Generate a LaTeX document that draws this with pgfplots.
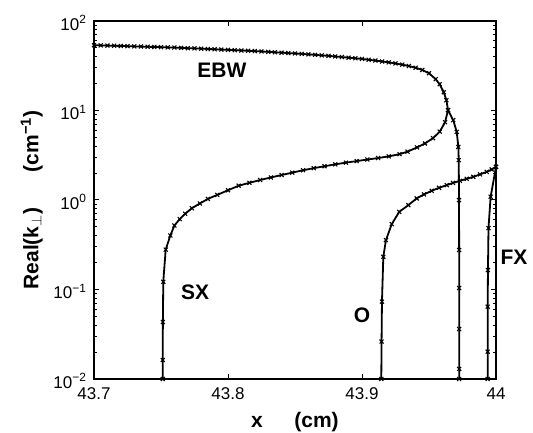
\documentclass[border=0pt]{standalone}
\usepackage{fontspec}
\setmainfont{Liberation Sans}
\usepackage{pgfplots}
\pgfplotsset{compat=1.18}

\begin{document}
\begin{tikzpicture}
\begin{axis}[
    at={(0pt,0pt)}, anchor=south west,
    scale only axis,
    width=402pt, height=358pt,
    ymode=log,
    xmin=43.7, xmax=44,
    ymin=0.01, ymax=100,
    xtick={43.7,43.8,43.9,44},
    xticklabels={43.7,43.8,43.9,44},
    ytick={0.01,0.1,1,10,100},
    yticklabels={10\textsuperscript{−2},10\textsuperscript{−1},10\textsuperscript{0},10\textsuperscript{1},10\textsuperscript{2}},
    minor ytick={0.02,0.03,0.04,0.05,0.06,0.07,0.08,0.09,
                 0.2,0.3,0.4,0.5,0.6,0.7,0.8,0.9,
                 2,3,4,5,6,7,8,9,20,30,40,50,60,70,80,90},
    minor x tick num=0,
    tick align=inside,
    major tick length=5pt,
    minor tick length=3pt,
    every tick/.style={black, line width=1pt},
    axis line style={line width=2pt},
    tick label style={font=\fontsize{17}{19}\selectfont},
    xticklabel style={yshift=-5pt},
    yticklabel style={xshift=-4pt, yshift=-2pt},
    xlabel={x\hspace{1.5em}(cm)},
    ylabel={Real(k\textsubscript{$\perp$})\hspace{1.7em}(cm\textsuperscript{−1})},
    label style={font=\fontsize{21}{24}\selectfont\bfseries},
    xlabel style={at={(axis description cs:0.5,-0.12)}, anchor=center},
    ylabel style={at={(axis description cs:-0.155,0.5)}, anchor=center},
    clip=false,
]

% EBW (upper) joined to SX (lower) through the turning point
\addplot[black, line width=1.8pt, mark=x, mark size=2.8pt, mark options={line width=1.1pt}] coordinates {
    (43.700,53.56) (43.705,53.42) (43.710,53.14) (43.715,52.87) (43.720,52.60)
    (43.725,52.33) (43.730,52.06) (43.735,51.80) (43.740,51.53) (43.745,51.26)
    (43.750,51.00) (43.755,50.74) (43.760,50.48) (43.765,50.09) (43.770,49.70)
    (43.775,49.45) (43.780,49.07) (43.785,48.70) (43.790,48.33) (43.795,47.96)
    (43.800,47.59) (43.805,47.22) (43.810,46.86) (43.815,46.50) (43.820,46.15)
    (43.825,45.67) (43.830,45.20) (43.835,44.74) (43.840,44.28) (43.845,43.82)
    (43.850,43.38) (43.855,42.93) (43.860,42.38) (43.865,41.85) (43.870,41.31)
    (43.875,40.79) (43.880,40.16) (43.885,39.55) (43.890,38.94) (43.895,38.35)
    (43.900,37.66) (43.905,36.90) (43.910,36.14) (43.915,35.32) (43.920,34.51)
    (43.925,33.55) (43.930,32.53) (43.935,31.38) (43.940,30.06) (43.945,28.38)
    (43.950,26.09) (43.955,22.36) (43.958,19.66) (43.961,16.00) (43.963,13.03)
    (43.9642,10.08)
    (43.962,7.40) (43.958,5.80) (43.953,4.91) (43.947,4.28) (43.941,3.87)
    (43.934,3.47) (43.928,3.25) (43.920,3.075) (43.912,2.943) (43.904,2.831)
    (43.896,2.720) (43.888,2.615) (43.880,2.502) (43.872,2.383) (43.864,2.270)
    (43.856,2.150) (43.848,2.022) (43.840,1.901) (43.832,1.787) (43.824,1.672)
    (43.816,1.556) (43.808,1.444) (43.800,1.286) (43.792,1.140) (43.785,1.029)
    (43.779,0.914) (43.773,0.808) (43.768,0.701) (43.764,0.612) (43.760,0.519)
    (43.757,0.402) (43.7535,0.279) (43.7517,0.122) (43.7514,0.0434)
    (43.7513,0.0163) (43.7513,0.01)
};

% branch leaving the turning point downwards
\addplot[black, line width=1.8pt, mark=x, mark size=2.8pt, mark options={line width=1.1pt}] coordinates {
    (43.9642,10.08) (43.9681,7.79) (43.9707,5.77) (43.9719,3.92) (43.9722,2.79)
    (43.9724,0.997) (43.9725,0.276) (43.9725,0.1039) (43.9725,0.0362)
    (43.9725,0.01296) (43.9725,0.01)
};

% O mode
\addplot[black, line width=1.8pt, mark=x, mark size=2.8pt, mark options={line width=1.1pt}] coordinates {
    (43.9144,0.01) (43.9146,0.0262) (43.9149,0.0731) (43.9159,0.232) (43.9179,0.357)
    (43.9222,0.538) (43.9278,0.738) (43.9346,0.877) (43.9408,1.042) (43.9463,1.155)
    (43.9520,1.267) (43.9575,1.368) (43.9632,1.466) (43.9679,1.552) (43.9731,1.638)
    (43.9781,1.724) (43.9831,1.815) (43.9881,1.935) (43.9931,2.064) (43.9968,2.195)
    (44.0,2.347)
};

% FX mode
\addplot[black, line width=1.8pt, mark=x, mark size=2.8pt, mark options={line width=1.1pt}] coordinates {
    (43.9938,0.01) (43.9938,0.0202) (43.9938,0.0643) (43.9940,0.165) (43.9944,0.486)
    (43.9960,1.086) (44.0,2.347)
};

\node[font=\fontsize{21}{24}\selectfont\bfseries] at (axis cs:43.7955,28.2) {EBW};
\node[font=\fontsize{21}{24}\selectfont\bfseries] at (axis cs:43.7754,0.094) {SX};
\node[font=\fontsize{21}{24}\selectfont\bfseries] at (axis cs:43.900,0.052) {O};
\node[font=\fontsize{21}{24}\selectfont\bfseries] at (axis cs:44.0134,0.23) {FX};
\end{axis}
\pgfresetboundingbox
\path[use as bounding box] (-94pt,-54pt) rectangle (439pt,379pt);
\end{tikzpicture}
\end{document}
